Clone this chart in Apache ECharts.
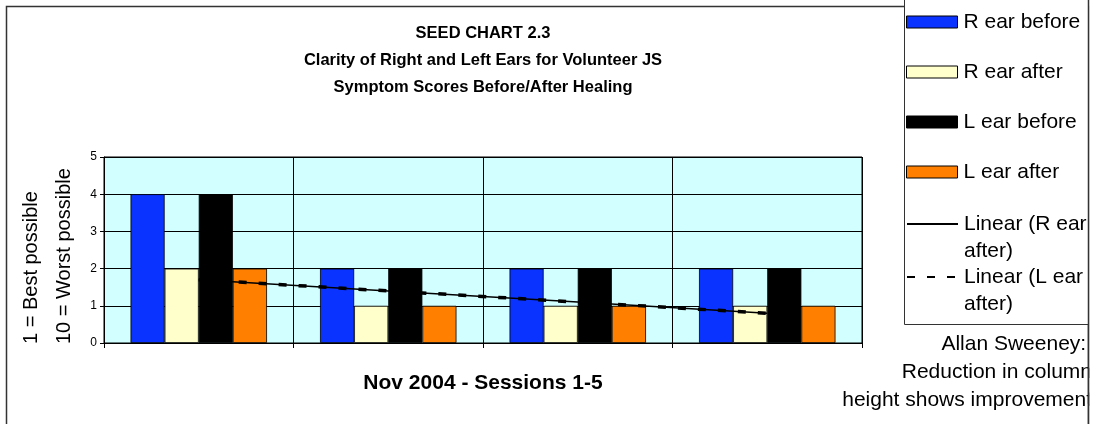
<!DOCTYPE html>
<html>
<head>
<meta charset="utf-8">
<script src="https://cdn.jsdelivr.net/npm/echarts@6/dist/echarts.min.js"></script>
<style>
html,body{margin:0;padding:0;background:#fff;}
#chart{width:1093px;height:424px;}
</style>
</head>
<body>
<div id="chart"></div>
<script>
const categories = ['Session 1', 'Session 2', 'Session 3', 'Session 4'];
const rEarBefore = [4, 2, 2, 2];
const rEarAfter = [2, 1, 1, 1];
const lEarBefore = [4, 2, 2, 2];
const lEarAfter = [2, 1, 1, 1];
const linearRAfter = [1.7, 1.4, 1.1, 0.8];
const linearLAfter = [1.7, 1.4, 1.1, 0.8];
const yMin = 0, yMax = 5, yStep = 1;
const titleLines = ['SEED CHART 2.3', 'Clarity of Right and Left Ears for Volunteer JS', 'Symptom Scores Before/After Healing'];
const xName = 'Nov 2004 - Sessions 1-5';
const yNameLines = ['1 = Best possible', '10 = Worst possible'];
const noteLines = ['Allan Sweeney: ', 'Reduction in column', 'height shows improvement'];

const FONT = 'Liberation Sans, Arial, sans-serif';
const chart = echarts.init(document.getElementById('chart'), null, {renderer: 'canvas'});

const barNames = ['R ear before', 'R ear after', 'L ear before', 'L ear after'];
const barData = [rEarBefore, rEarAfter, lEarBefore, lEarAfter];
const barColors = ['#0A33FF', '#FFFFCC', '#000000', '#FF8000'];
const lineLegendText = {
  'Linear (R ear after)': '\nLinear (R ear\nafter)',
  'Linear (L ear after)': '\nLinear (L ear\nafter)'
};

const series = barNames.map((n, i) => ({
  name: n,
  type: 'bar',
  data: barData[i],
  barGap: '0%',
  barCategoryGap: '28%',
  itemStyle: {color: barColors[i], borderColor: '#000', borderWidth: 0.8},
  emphasis: {disabled: true},
  z: 2
}));
series.push({
  name: 'Linear (R ear after)',
  type: 'line',
  data: linearRAfter,
  symbol: 'none',
  showSymbol: false,
  lineStyle: {color: '#000', width: 1.5, type: 'solid'},
  itemStyle: {color: '#000'},
  z: 5
});
series.push({
  name: 'Linear (L ear after)',
  type: 'line',
  data: linearLAfter,
  symbol: 'none',
  showSymbol: false,
  lineStyle: {color: '#000', width: 3.5, type: [8, 12]},
  itemStyle: {color: '#000'},
  z: 6
});

const option = {
  animation: false,
  backgroundColor: '#fff',
  textStyle: {fontFamily: FONT},
  title: {
    text: titleLines.join('\n'),
    left: 483,
    top: 20,
    textAlign: 'center',
    padding: 0,
    textStyle: {fontFamily: FONT, fontSize: 16.5, fontWeight: 'bold', color: '#000', lineHeight: 27}
  },
  legend: [
    {
      data: barNames,
      orient: 'vertical',
      left: 906,
      top: 11,
      padding: 0,
      itemWidth: 51,
      itemHeight: 12,
      itemGap: 28,
      icon: 'rect',
      selectedMode: false,
      itemStyle: {borderColor: '#000', borderWidth: 1},
      textStyle: {fontFamily: FONT, fontSize: 21, color: '#000', lineHeight: 22, padding: [0, 0, 0, 1]}
    },
    {
      data: ['Linear (R ear after)', 'Linear (L ear after)'],
      orient: 'vertical',
      left: 906,
      top: 183.5,
      padding: 0,
      itemWidth: 51,
      itemHeight: 12,
      itemGap: -28,
      selectedMode: false,
      itemStyle: {opacity: 0},
      formatter: n => lineLegendText[n],
      textStyle: {fontFamily: FONT, fontSize: 21, color: '#000', lineHeight: 27, padding: [0, 0, 0, 1]}
    }
  ],
  grid: {
    left: 104,
    right: 1093 - 862,
    top: 157,
    bottom: 424 - 343,
    show: true,
    backgroundColor: '#D2FFFF',
    borderColor: '#000',
    borderWidth: 1
  },
  xAxis: {
    type: 'category',
    data: categories,
    boundaryGap: true,
    name: xName,
    nameLocation: 'middle',
    nameGap: 30,
    nameTextStyle: {fontFamily: FONT, fontSize: 21, fontWeight: 'bold', color: '#000', verticalAlign: 'top'},
    axisLine: {show: true, lineStyle: {color: '#000', width: 1}},
    axisTick: {show: true, length: 5, lineStyle: {color: '#000'}},
    axisLabel: {show: false},
    splitLine: {show: true, lineStyle: {color: '#000', width: 1}}
  },
  yAxis: {
    type: 'value',
    min: yMin,
    max: yMax,
    interval: yStep,
    axisLine: {show: true, lineStyle: {color: '#000', width: 1}},
    axisTick: {show: true, length: 4, lineStyle: {color: '#000'}},
    axisLabel: {fontFamily: FONT, fontSize: 12, color: '#000', margin: 7},
    splitLine: {show: true, lineStyle: {color: '#000', width: 1}}
  },
  series: series,
  graphic: [
    {type: 'rect', z: 0, shape: {x: 6.5, y: 6.5, width: 1082, height: 500}, style: {fill: 'none', stroke: '#333', lineWidth: 1.5}, silent: true},
    {type: 'rect', z: 1, shape: {x: 904.5, y: -5, width: 184, height: 329.5}, style: {fill: '#fff', stroke: '#333', lineWidth: 1}, silent: true},
    {type: 'text', z: 1, x: 15, y: 344, rotation: Math.PI / 2,
      style: {text: yNameLines.join('\n'), fontFamily: FONT, fontSize: 20, fill: '#000', lineHeight: 33, align: 'left', verticalAlign: 'top'}, silent: true},
    {type: 'text', z: 1, x: 1092, y: 330,
      style: {text: noteLines.join('\n'), fontFamily: FONT, fontSize: 21, fill: '#000', lineHeight: 28, align: 'right', verticalAlign: 'top'}, silent: true},
    {type: 'rect', z: 50, shape: {x: 1089.3, y: 0, width: 10, height: 424}, style: {fill: '#fff'}, silent: true},
    {type: 'line', z: 51, shape: {x1: 1088.5, y1: 0, x2: 1088.5, y2: 424}, style: {stroke: '#333', lineWidth: 1.5}, silent: true}
  ]
};
chart.setOption(option);
</script>
</body>
</html>
